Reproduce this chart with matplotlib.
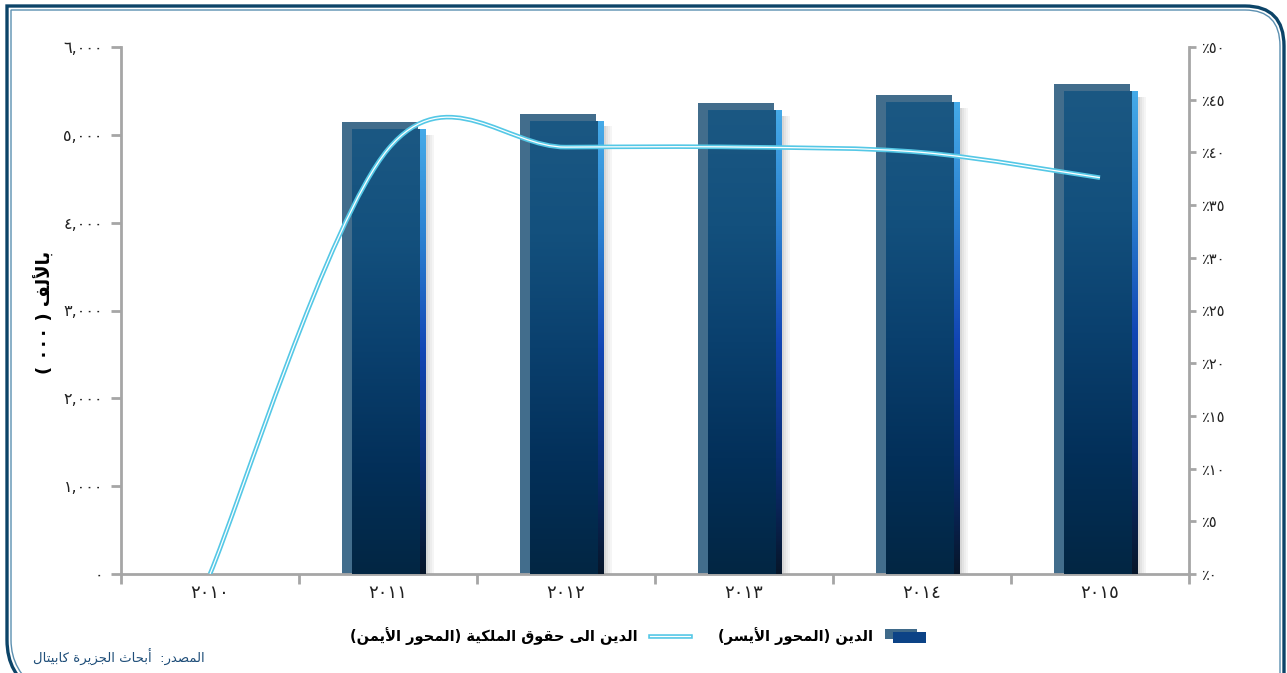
import re
import numpy as np
import matplotlib
matplotlib.use('Agg')
import matplotlib.pyplot as plt
from matplotlib.path import Path
from matplotlib.patches import PathPatch, Rectangle
from matplotlib.colors import LinearSegmentedColormap
from matplotlib.legend_handler import HandlerBase, HandlerTuple
from matplotlib.lines import Line2D

# ---- data ----
years = ['٢٠١٠', '٢٠١١', '٢٠١٢', '٢٠١٣', '٢٠١٤', '٢٠١٥']
debt = [0, 5145, 5240, 5365, 5455, 5580]              # thousands SAR, left axis
debt_to_equity = [0, 40.3, 40.5, 40.5, 40.0, 37.6]    # %, right axis

left_ticks = [0, 1000, 2000, 3000, 4000, 5000, 6000]
left_tick_labels = ['٠', '١,٠٠٠', '٢,٠٠٠', '٣,٠٠٠', '٤,٠٠٠', '٥,٠٠٠', '٦,٠٠٠']
right_ticks = [0, 5, 10, 15, 20, 25, 30, 35, 40, 45, 50]
right_tick_labels = ['٪٠', '٪٥', '٪١٠', '٪١٥', '٪٢٠', '٪٢٥', '٪٣٠', '٪٣٥', '٪٤٠', '٪٤٥', '٪٥٠']

bar_label = 'الدين (المحور الأيسر)'
line_label = 'الدين الى حقوق الملكية (المحور الأيمن)'
y_label = 'بالألف ( ٠٠٠ )'
source_text = 'المصدر:  أبحاث الجزيرة كابيتال'

# ---- minimal arabic shaping (matplotlib has no bidi / joining) ----
DUAL = {'ب': 0xFE8F, 'ت': 0xFE95, 'ث': 0xFE99, 'ج': 0xFE9D, 'ح': 0xFEA1, 'خ': 0xFEA5,
        'س': 0xFEB1, 'ش': 0xFEB5, 'ص': 0xFEB9, 'ض': 0xFEBD, 'ط': 0xFEC1, 'ظ': 0xFEC5,
        'ع': 0xFEC9, 'غ': 0xFECD, 'ف': 0xFED1, 'ق': 0xFED5, 'ك': 0xFED9, 'ل': 0xFEDD,
        'م': 0xFEE1, 'ن': 0xFEE5, 'ه': 0xFEE9, 'ي': 0xFEF1, 'ئ': 0xFE89}
RIGHT = {'ا': 0xFE8D, 'أ': 0xFE83, 'إ': 0xFE87, 'آ': 0xFE81, 'د': 0xFEA9, 'ذ': 0xFEAB,
         'ر': 0xFEAD, 'ز': 0xFEAF, 'و': 0xFEED, 'ؤ': 0xFE85, 'ة': 0xFE93, 'ى': 0xFEEF}
LAM_ALEF = {'ا': 0xFEFB, 'أ': 0xFEF7, 'إ': 0xFEF9, 'آ': 0xFEF5}
MIRROR = {'(': ')', ')': '('}


def shape(text):
    toks = []
    i = 0
    while i < len(text):
        c = text[i]
        if c == 'ل' and i + 1 < len(text) and text[i + 1] in LAM_ALEF:
            toks.append(('LA', text[i + 1]))
            i += 2
        else:
            toks.append(('C', c))
            i += 1

    def join_prev(t):
        return t[0] == 'LA' or t[1] in DUAL or t[1] in RIGHT

    def join_next(t):
        return t[0] == 'C' and t[1] in DUAL

    out = []
    for k, t in enumerate(toks):
        p = k > 0 and join_next(toks[k - 1]) and join_prev(t)
        n = k + 1 < len(toks) and join_next(t) and join_prev(toks[k + 1])
        if t[0] == 'LA':
            out.append(chr(LAM_ALEF[t[1]] + (1 if p else 0)))
        elif t[1] in DUAL:
            base = DUAL[t[1]]
            off = 3 if (p and n) else 2 if n else 1 if p else 0
            out.append(chr(base + off))
        elif t[1] in RIGHT:
            out.append(chr(RIGHT[t[1]] + (1 if p else 0)))
        else:
            out.append(t[1])
    vis = ''.join(MIRROR.get(c, c) for c in reversed(out))
    # keep digit runs left-to-right
    vis = re.sub(r'[0-9٠-٩][0-9٠-٩,.]*', lambda m: m.group()[::-1], vis)
    return vis


# ---- figure ----
W, H = 1287, 673
fig = plt.figure(figsize=(W / 100, H / 100), dpi=100)
plt.rcParams['font.family'] = ['DejaVu Sans']

ax = fig.add_axes([121 / W, 1 - 574 / H, (1189 - 121) / W, (574 - 47) / H])
ax2 = ax.twinx()

x = np.arange(len(years))
grey = '#a6a6a6'

# bars: slate back plate, gradient front bar, bright right edge, soft shadow
front_cmap = LinearSegmentedColormap.from_list(
    'front', ['#022643', '#03305a', '#0a406e', '#13507d', '#1b5883'])
edge_cmap = LinearSegmentedColormap.from_list(
    'edge', ['#07162a', '#0b2f78', '#1246b4', '#2a7fd0', '#45aae8'])
grad = np.linspace(0, 1, 256).reshape(-1, 1)

for xi, v in zip(x, debt):
    if v <= 0:
        continue
    top_front = v - 85
    # shadow
    for j, a in enumerate([0.16, 0.11, 0.07, 0.04]):
        ax.add_patch(Rectangle((xi + 0.21 + j * 0.012, 0), 0.012, top_front - 60,
                               fc='#000000', alpha=a, ec='none', zorder=1))
    ax.add_patch(Rectangle((xi - 0.26, 0), 0.43, v, fc='#426d8c', ec='none', zorder=2))
    ax.imshow(grad, extent=[xi - 0.20, xi + 0.18, 0, top_front], origin='lower',
              cmap=front_cmap, aspect='auto', zorder=3)
    ax.imshow(grad, extent=[xi + 0.18, xi + 0.21, 0, top_front], origin='lower',
              cmap=edge_cmap, aspect='auto', zorder=3)

ax.set_xlim(-0.5, len(years) - 0.5)
ax.set_ylim(0, 6000)
ax.set_yticks(left_ticks)
ax.set_yticklabels(left_tick_labels, fontsize=11.5, color='#222222')
ax.set_xticks(x)
ax.set_xticklabels(years, fontsize=13, color='#222222')
ax.set_xticks(np.arange(len(years) + 1) - 0.5, minor=True)
ax.tick_params(axis='x', which='major', length=0, pad=7)
ax.tick_params(axis='x', which='minor', length=7, width=2, color=grey, direction='out')
ax.tick_params(axis='y', length=7, width=2, color=grey, pad=6)

# smoothed line (bezier through the points, excel style)
pts = list(zip(x.astype(float), debt_to_equity))
verts = [pts[0]]
codes = [Path.MOVETO]
for i in range(len(pts) - 1):
    p0 = pts[i - 1] if i > 0 else pts[i]
    p1, p2 = pts[i], pts[i + 1]
    p3 = pts[i + 2] if i + 2 < len(pts) else pts[i + 1]
    c1 = (p1[0] + (p2[0] - p0[0]) / 6, p1[1] + (p2[1] - p0[1]) / 6)
    c2 = (p2[0] - (p3[0] - p1[0]) / 6, p2[1] - (p3[1] - p1[1]) / 6)
    verts += [c1, c2, p2]
    codes += [Path.CURVE4] * 3
curve = Path(verts, codes)
ax2.add_patch(PathPatch(curve, fill=False, ec='#55c8e6', lw=3.3, zorder=5, capstyle='butt'))
ax2.add_patch(PathPatch(curve, fill=False, ec='white', lw=0.9, zorder=6, capstyle='butt'))
ax2.set_ylim(0, 50)
ax2.set_yticks(right_ticks)
ax2.set_yticklabels(right_tick_labels, fontsize=10.5, color='#222222')
ax2.tick_params(axis='y', length=5, width=2, color=grey, pad=4)

for a in (ax, ax2):
    a.spines['top'].set_visible(False)
    for s in ('left', 'right', 'bottom'):
        a.spines[s].set_color(grey)
        a.spines[s].set_linewidth(2)
ax.spines['right'].set_visible(False)
ax2.spines['left'].set_visible(False)
ax2.spines['bottom'].set_visible(False)

# y label and source
fig.text(45 / W, 1 - 312 / H, shape(y_label), rotation=90, fontsize=13,
         fontweight='bold', ha='center', va='center')
fig.text(33 / W, 1 - 657 / H, shape(source_text),
         fontsize=9.5, color='#1f4e79', ha='left', va='center')


# legend
class BarHandler(HandlerBase):
    def create_artists(self, legend, orig_handle, xdescent, ydescent, width, height,
                       fontsize, trans):
        back = Rectangle((-xdescent, -ydescent + 0.2 * height), width * 0.8, height * 1.0,
                         fc='#3f6a8a', ec='none', transform=trans)
        front = Rectangle((-xdescent + 0.2 * width, -ydescent - 0.15 * height),
                          width * 0.8, height * 1.05, fc='#0c4386', ec='none',
                          transform=trans)
        return [back, front]


bar_handle = Rectangle((0, 0), 1, 1)
line_handle = (Line2D([], [], color='#55c8e6', lw=3.3), Line2D([], [], color='white', lw=0.9))
fig.legend([line_handle, bar_handle], [shape(line_label), shape(bar_label)],
           handler_map={tuple: HandlerTuple(ndivide=1), Rectangle: BarHandler()},
           loc='center', bbox_to_anchor=(638 / W, 1 - 636 / H), ncol=2, frameon=False,
           markerfirst=False, prop={'size': 10.5, 'weight': 'bold'},
           handlelength=2.8, columnspacing=1.9, handletextpad=0.8)

# rounded double frame
def frame(off):
    pts_px = [(35 + off, 690), (7 + off, 675 - off), (7 + off, 640), (7 + off, 6 + off),
              (1245, 6 + off), (1284 - off, 6 + off), (1284 - off, 46), (1284 - off, 690)]
    cds = [Path.MOVETO, Path.CURVE3, Path.CURVE3, Path.LINETO, Path.LINETO,
           Path.CURVE3, Path.CURVE3, Path.LINETO]
    return Path([(px / W, 1 - py / H) for px, py in pts_px], cds)


fig.add_artist(PathPatch(frame(0), fill=False, ec='#0c4468', lw=2.4,
                         transform=fig.transFigure))
fig.add_artist(PathPatch(frame(4), fill=False, ec='#5b8fb0', lw=1.0,
                         transform=fig.transFigure))

fig.savefig('out.png', dpi=100)
